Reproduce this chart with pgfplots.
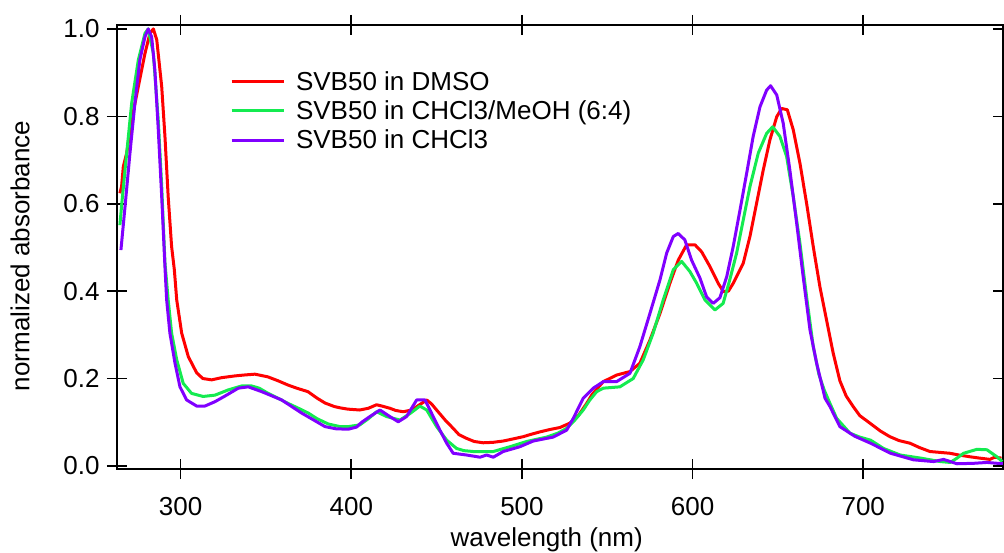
\documentclass[border=0pt]{standalone}
\usepackage{pgfplots}
\pgfplotsset{compat=1.18}
\usepackage{fontspec}
\setmainfont{Liberation Sans}
\usetikzlibrary{calc}
\definecolor{cred}{RGB}{255,0,0}
\definecolor{cgreen}{RGB}{20,235,80}
\definecolor{cpurple}{RGB}{128,0,255}
\newcommand{\bigf}{\fontsize{26}{31}\selectfont}
\begin{document}
\begin{tikzpicture}
\begin{axis}[
 name=main,
 at={(0,0)}, anchor=south west,
 scale only axis, width=886pt, height=444pt,
 xmin=262.7, xmax=781.9, ymin=-0.007, ymax=1.009,
 xtick={300,400,500,600,700}, ytick={0,0.2,0.4,0.6,0.8,1.0},
 /pgf/number format/assume math mode=true,
 ticklabel style={font=\bigf},
 yticklabel style={/pgf/number format/fixed, /pgf/number format/fixed zerofill, /pgf/number format/precision=1},
 xticklabel style={/pgf/number format/set thousands separator={}},
 xticklabel shift=15pt,
 yticklabel shift=4pt,
 ytick pos=left,
 tick align=center, major tick length=20pt,
 tick style={line width=1.6pt, black},
 axis line style={line width=1.6pt},
 minor tick num=0,
 xlabel={wavelength (nm)}, ylabel={normalized absorbance},
 label style={font=\bigf},
 xlabel style={at={(axis description cs:0.485,-0.159)}, anchor=center},
 ylabel style={at={(axis description cs:-0.1095,0.48)}, anchor=center},
 legend style={at={(axis description cs:0.124,0.905)}, anchor=north west, draw=none, fill=none, font=\bigf, legend cell align=left, row sep=5pt, nodes={inner xsep=11pt}},
 legend image code/.code={\draw[#1, line width=3pt] (0pt,0pt) -- (52pt,0pt);},
]
\addplot[cred, line width=3pt, line join=round] coordinates {(264.4,0.624) (265.4,0.64) (266.4,0.685) (268.4,0.716) (271.3,0.792) (275.2,0.868) (279.1,0.944) (282,0.99) (284,1.0) (286,0.975) (288.9,0.868) (290.8,0.754) (292.7,0.616) (294.7,0.502) (296.3,0.449) (297.7,0.38) (300.6,0.304) (304.5,0.25) (309.4,0.213) (313,0.2) (318.2,0.197) (324,0.202) (331.8,0.206) (337,0.208) (343.5,0.21) (351,0.204) (357,0.195) (363,0.185) (368,0.178) (374.6,0.17) (380,0.155) (384.6,0.144) (390,0.136) (393.4,0.133) (398,0.130) (405,0.128) (410,0.132) (414.8,0.14) (418,0.137) (422.6,0.132) (426,0.127) (430.4,0.124) (435.4,0.128) (440,0.140) (444.2,0.151) (447,0.142) (450,0.128) (455,0.105) (459.7,0.086) (463,0.072) (467.6,0.063) (472,0.056) (477.3,0.053) (483,0.054) (489,0.057) (495,0.062) (500.8,0.067) (505,0.072) (510.6,0.078) (516,0.083) (522.3,0.088) (528.1,0.098) (533,0.115) (537.9,0.143) (541,0.163) (547.7,0.193) (555.5,0.208) (563.3,0.216) (569.1,0.235) (575,0.288) (580.9,0.349) (586.7,0.418) (591.6,0.471) (596.5,0.506) (601.4,0.506) (605.3,0.49) (610.2,0.456) (615,0.418) (618,0.399) (621,0.400) (623.8,0.418) (629.7,0.464) (633.6,0.525) (637.5,0.601) (641.4,0.677) (645.3,0.746) (649.3,0.799) (652.2,0.818) (655.5,0.815) (659,0.769) (662.9,0.693) (666.8,0.601) (670.7,0.502) (674.6,0.41) (678.5,0.334) (682.4,0.258) (686.3,0.195) (690,0.16) (694.1,0.136) (698,0.115) (703.9,0.098) (710,0.08) (715.6,0.067) (721,0.058) (727.4,0.052) (733,0.042) (739.1,0.033) (745,0.031) (750.8,0.029) (756,0.025) (762.5,0.021) (768,0.018) (774.2,0.015) (777,0.02) (781,0.018)};
\addlegendentry{SVB50 in DMSO}
\addplot[cgreen, line width=3pt, line join=round] coordinates {(264.4,0.551) (265.5,0.6) (267.4,0.677) (271.3,0.83) (275.2,0.929) (279.1,0.99) (281,1.0) (284,0.944) (286.9,0.79) (288.9,0.64) (290.8,0.465) (292.7,0.38) (294.7,0.304) (297.7,0.243) (301.5,0.189) (306.4,0.166) (313.2,0.159) (320.1,0.162) (327.9,0.174) (335.7,0.183) (341.6,0.183) (346,0.178) (351.3,0.166) (357,0.155) (363,0.143) (369,0.132) (374.8,0.121) (380,0.108) (386.5,0.096) (393.4,0.09) (398.2,0.09) (405,0.094) (410,0.108) (414.8,0.124) (420.7,0.113) (428.5,0.105) (434.4,0.12) (440.2,0.137) (444.2,0.128) (450,0.09) (455.9,0.059) (461.7,0.04) (466,0.035) (471.5,0.033) (483.2,0.033) (493,0.044) (502.8,0.056) (514.5,0.066) (521,0.075) (526.2,0.086) (531,0.105) (535.9,0.128) (539.8,0.151) (543.8,0.17) (547.7,0.178) (557.4,0.181) (565.2,0.2) (571.1,0.243) (576.9,0.304) (582.8,0.38) (588.7,0.449) (593.6,0.468) (598.4,0.445) (602.4,0.418) (607.2,0.38) (613.1,0.357) (617.9,0.372) (621.8,0.426) (625.8,0.487) (629.7,0.563) (633.6,0.639) (638.5,0.716) (643.4,0.761) (646.9,0.776) (651.2,0.754) (655.1,0.708) (659,0.616) (662.9,0.51) (666.8,0.387) (670.7,0.273) (674,0.21) (677,0.175) (680.5,0.143) (684.4,0.109) (692.2,0.075) (698,0.066) (704.3,0.059) (711.9,0.04) (721.7,0.025) (733.5,0.018) (745.2,0.01) (751,0.008) (755,0.018) (758.8,0.029) (766.6,0.038) (772.5,0.037) (778.3,0.021) (781.5,0.01)};
\addlegendentry{SVB50 in CHCl3/MeOH (6:4)}
\addplot[cpurple, line width=3pt, line join=round] coordinates {(265,0.494) (267.4,0.593) (270.3,0.716) (273.2,0.83) (276.1,0.929) (279.1,0.982) (281,1.0) (283,0.982) (284.9,0.906) (286.9,0.769) (288.9,0.616) (290.8,0.456) (291.8,0.38) (293.7,0.304) (296.7,0.235) (299.6,0.181) (303.5,0.151) (309.4,0.137) (314.2,0.137) (320.1,0.147) (326,0.16) (333.8,0.178) (339.6,0.181) (347.5,0.17) (359.2,0.151) (370.9,0.121) (378,0.105) (384.6,0.09) (391,0.085) (398.2,0.084) (403.1,0.089) (406.1,0.100) (410.9,0.113) (416.8,0.128) (422.6,0.113) (427.5,0.101) (432.4,0.113) (438.3,0.151) (443.2,0.151) (448,0.113) (451.9,0.082) (455.9,0.052) (459.7,0.029) (467.6,0.025) (475.4,0.02) (479.3,0.025) (483.2,0.02) (489,0.033) (498.8,0.044) (506.6,0.057) (518.3,0.066) (526.2,0.082) (530.1,0.109) (535.9,0.155) (541.8,0.178) (547.7,0.193) (555.5,0.193) (563.3,0.212) (569.1,0.273) (575,0.349) (580.9,0.426) (584.8,0.487) (588.7,0.525) (591.6,0.532) (595.5,0.517) (599.4,0.471) (604.3,0.43) (608.2,0.387) (612.1,0.372) (616,0.385) (620,0.433) (623.8,0.502) (627.8,0.586) (631.7,0.67) (635.5,0.754) (639.5,0.822) (643.4,0.86) (645.7,0.87) (649.3,0.849) (653.1,0.784) (657,0.677) (661,0.555) (664.8,0.433) (668.8,0.311) (672.7,0.235) (677.6,0.155) (680.5,0.136) (686.3,0.09) (695,0.068) (704.3,0.052) (716,0.029) (729.5,0.014) (741.3,0.01) (747.1,0.015) (754.9,0.005) (764.6,0.006) (772.5,0.008) (781.8,0.005)};
\addlegendentry{SVB50 in CHCl3}
\end{axis}
\begin{axis}[
 at={(0,0)}, anchor=south west,
 scale only axis, width=886pt, height=444pt,
 xmin=262.7, xmax=781.9, ymin=-0.007, ymax=1.009,
 hide x axis, axis y line*=right,
 ytick={0,0.2,0.4,0.6,0.8,1.0}, yticklabels={},
 tick align=inside, major tick length=10pt,
 tick style={line width=1.6pt, black},
 y axis line style={draw=none},
]
\end{axis}
\pgfresetboundingbox
\path (-117pt,-83pt) rectangle (887pt,469pt);
\end{tikzpicture}
\end{document}
